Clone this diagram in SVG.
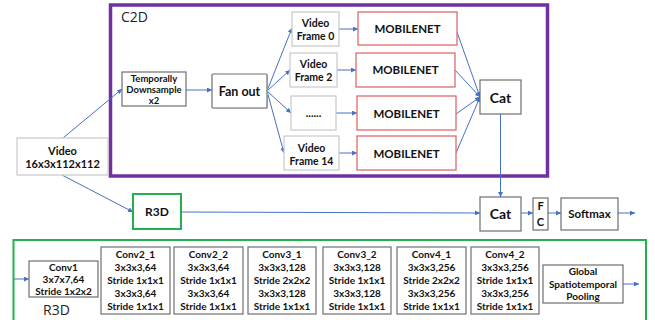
<svg xmlns="http://www.w3.org/2000/svg" width="655" height="320" viewBox="0 0 655 320">
  <defs>
    <marker id="arr" viewBox="0 0 6 6" refX="6" refY="3" markerWidth="5" markerHeight="5" orient="auto" markerUnits="userSpaceOnUse">
      <path d="M0,0 L6,3 L0,6 z" fill="#4472C4"/>
    </marker>
    <style>
      .t { font-family: Lato, "Open Sans", "Liberation Sans", sans-serif; font-weight: bold; fill: #111; text-anchor: middle; }
      .lbl { font-family: "Open Sans", "Liberation Sans", sans-serif; font-weight: normal; fill: #222; }
      .box { fill: #fff; stroke: #6f6f6f; stroke-width: 1.2; }
      .light { fill: #fff; stroke: #c9c9c9; stroke-width: 1.2; }
      .mob { fill: #fff; stroke: #e06a6a; stroke-width: 1.3; }
      .grn { fill: #fff; stroke: #22b14c; stroke-width: 2; }
      .c { fill: none; stroke: #4472C4; stroke-width: 1; marker-end: url(#arr); }
      .s { font-size: 10px; }
    </style>
  </defs>
  <rect width="655" height="320" fill="#fff"/>

  <!-- C2D container -->
  <g id="c2d">
    <rect x="110.5" y="5" width="437" height="171" fill="none" stroke="#7030A0" stroke-width="3.5"/>
    <text class="lbl" x="121" y="22" font-size="14">C2D</text>
  </g>

  <!-- R3D container -->
  <g id="r3d-block">
    <rect x="13.5" y="240" width="632.5" height="85" fill="none" stroke="#22b14c" stroke-width="2"/>
    <text class="lbl" x="43" y="315" font-size="14">R3D</text>
  </g>

  <!-- connectors -->
  <g id="connectors">
    <line class="c" x1="63" y1="138" x2="122" y2="89"/>
    <line class="c" x1="186" y1="90" x2="212" y2="90"/>
    <line class="c" x1="267" y1="91" x2="292" y2="28"/>
    <line class="c" x1="267" y1="91" x2="290" y2="70"/>
    <line class="c" x1="267" y1="91" x2="291" y2="113"/>
    <line class="c" x1="267" y1="91" x2="284" y2="153"/>
    <line class="c" x1="339" y1="29" x2="358" y2="29"/>
    <line class="c" x1="337" y1="70" x2="356" y2="70"/>
    <line class="c" x1="336" y1="113" x2="357" y2="113"/>
    <line class="c" x1="339" y1="153" x2="357" y2="153"/>
    <line class="c" x1="457" y1="32" x2="480" y2="97"/>
    <line class="c" x1="455" y1="70" x2="480" y2="97"/>
    <line class="c" x1="456" y1="114" x2="480" y2="97"/>
    <line class="c" x1="456" y1="153" x2="480" y2="97"/>
    <line class="c" x1="500.5" y1="114" x2="500.5" y2="197"/>
    <line class="c" x1="62" y1="175" x2="133" y2="212"/>
    <line class="c" x1="181" y1="212" x2="480" y2="213"/>
    <line class="c" x1="521" y1="213" x2="533" y2="213"/>
    <line class="c" x1="548" y1="213" x2="561" y2="213"/>
    <line class="c" x1="618" y1="213" x2="635" y2="213"/>
    <line class="c" x1="14" y1="279" x2="29" y2="279"/>
    <line class="c" x1="623" y1="284" x2="639" y2="284"/>
  </g>

  <g id="video">
    <rect class="light" x="17" y="138" width="91" height="37"/>
    <text class="t" font-size="11" x="62.5" y="155">Video</text>
    <text class="t" font-size="11" x="62.5" y="168">16x3x112x112</text>
  </g>

  <g id="downsample">
    <rect class="box" x="122" y="72" width="64" height="34"/>
    <text class="t" font-size="9.5" x="154" y="81.5">Temporally</text>
    <text class="t" font-size="9.5" x="154" y="93">Downsample</text>
    <text class="t" font-size="9.5" x="154" y="104">x2</text>
  </g>

  <g id="fanout">
    <rect x="213" y="75" width="55" height="34" fill="#ddd" rx="1"/>
    <rect class="box" x="212" y="74" width="55" height="34" rx="1"/>
    <text class="t" font-size="12.5" x="239.5" y="96">Fan out</text>
  </g>

  <g id="frame0">
    <rect class="light" x="292" y="12" width="47" height="34"/>
    <text class="t" font-size="10.5" x="315.5" y="27">Video</text>
    <text class="t" font-size="10.5" x="315.5" y="39.5">Frame 0</text>
  </g>
  <g id="frame2">
    <rect class="light" x="290" y="53" width="47" height="34"/>
    <text class="t" font-size="10.5" x="313.5" y="67.5">Video</text>
    <text class="t" font-size="10.5" x="313.5" y="80.5">Frame 2</text>
  </g>
  <g id="frame-more">
    <rect class="light" x="291" y="96" width="45" height="34"/>
    <text class="t" font-size="11" x="313.5" y="117">......</text>
  </g>
  <g id="frame14">
    <rect class="light" x="284" y="136" width="55" height="34"/>
    <text class="t" font-size="10.5" x="311.5" y="151.5">Video</text>
    <text class="t" font-size="10.5" x="311.5" y="164.5">Frame 14</text>
  </g>

  <g id="mobilenet0">
    <rect class="mob" x="358" y="12" width="99" height="33"/>
    <text class="t" font-size="11.5" x="407.5" y="33">MOBILENET</text>
  </g>
  <g id="mobilenet1">
    <rect class="mob" x="356" y="53" width="99" height="34"/>
    <text class="t" font-size="11.5" x="405.5" y="74">MOBILENET</text>
  </g>
  <g id="mobilenet2">
    <rect class="mob" x="357" y="96" width="99" height="34"/>
    <text class="t" font-size="11.5" x="406.5" y="118">MOBILENET</text>
  </g>
  <g id="mobilenet3">
    <rect class="mob" x="357" y="136" width="99" height="34"/>
    <text class="t" font-size="11.5" x="406.5" y="158">MOBILENET</text>
  </g>

  <g id="cat-c2d">
    <rect class="box" x="480" y="80" width="41" height="34"/>
    <text class="t" font-size="14" x="500.5" y="103">Cat</text>
  </g>

  <g id="r3d">
    <rect class="grn" x="133" y="194" width="48" height="35"/>
    <text class="t" font-size="12" x="157" y="216">R3D</text>
  </g>

  <g id="cat">
    <rect class="box" x="480" y="197" width="41" height="34"/>
    <text class="t" font-size="14" x="500.5" y="219">Cat</text>
  </g>
  <g id="fc">
    <rect class="box" x="533" y="198" width="15" height="32"/>
    <text class="t" font-size="11" x="540.5" y="210">F</text>
    <text class="t" font-size="11" x="540.5" y="226">C</text>
  </g>
  <g id="softmax">
    <rect class="box" x="561" y="198" width="57" height="32"/>
    <text class="t" font-size="11.5" x="589.5" y="218">Softmax</text>
  </g>

  <g id="conv1">
    <rect class="box" x="29" y="261" width="69" height="36"/>
    <text class="t s" x="63.5" y="270.5">Conv1</text>
    <text class="t s" x="63.5" y="282.5">3x7x7,64</text>
    <text class="t s" x="63.5" y="295">Stride 1x2x2</text>
  </g>

  <g id="conv2_1">
    <rect class="box" x="101" y="247" width="69" height="67"/>
    <text class="t s" x="135.5" y="257.5">Conv2_1</text>
    <text class="t s" x="135.5" y="270.5">3x3x3,64</text>
    <text class="t s" x="135.5" y="283.5">Stride 1x1x1</text>
    <text class="t s" x="135.5" y="296.5">3x3x3,64</text>
    <text class="t s" x="135.5" y="309.5">Stride 1x1x1</text>
  </g>
  <g id="conv2_2">
    <rect class="box" x="174" y="247" width="69" height="67"/>
    <text class="t s" x="208.5" y="257.5">Conv2_2</text>
    <text class="t s" x="208.5" y="270.5">3x3x3,64</text>
    <text class="t s" x="208.5" y="283.5">Stride 1x1x1</text>
    <text class="t s" x="208.5" y="296.5">3x3x3,64</text>
    <text class="t s" x="208.5" y="309.5">Stride 1x1x1</text>
  </g>
  <g id="conv3_1">
    <rect class="box" x="248" y="247" width="68" height="67"/>
    <text class="t s" x="282" y="257.5">Conv3_1</text>
    <text class="t s" x="282" y="270.5">3x3x3,128</text>
    <text class="t s" x="282" y="283.5">Stride 2x2x2</text>
    <text class="t s" x="282" y="296.5">3x3x3,128</text>
    <text class="t s" x="282" y="309.5">Stride 1x1x1</text>
  </g>
  <g id="conv3_2">
    <rect class="box" x="323" y="247" width="68" height="67"/>
    <text class="t s" x="357" y="257.5">Conv3_2</text>
    <text class="t s" x="357" y="270.5">3x3x3,128</text>
    <text class="t s" x="357" y="283.5">Stride 1x1x1</text>
    <text class="t s" x="357" y="296.5">3x3x3,128</text>
    <text class="t s" x="357" y="309.5">Stride 1x1x1</text>
  </g>
  <g id="conv4_1">
    <rect class="box" x="397" y="247" width="69" height="67"/>
    <text class="t s" x="431.5" y="257.5">Conv4_1</text>
    <text class="t s" x="431.5" y="270.5">3x3x3,256</text>
    <text class="t s" x="431.5" y="283.5">Stride 2x2x2</text>
    <text class="t s" x="431.5" y="296.5">3x3x3,256</text>
    <text class="t s" x="431.5" y="309.5">Stride 1x1x1</text>
  </g>
  <g id="conv4_2">
    <rect class="box" x="471" y="247" width="68" height="67"/>
    <text class="t s" x="505" y="257.5">Conv4_2</text>
    <text class="t s" x="505" y="270.5">3x3x3,256</text>
    <text class="t s" x="505" y="283.5">Stride 1x1x1</text>
    <text class="t s" x="505" y="296.5">3x3x3,256</text>
    <text class="t s" x="505" y="309.5">Stride 1x1x1</text>
  </g>
  <g id="pooling">
    <rect class="box" x="543" y="265" width="80" height="38"/>
    <text class="t s" x="583" y="274.5">Global</text>
    <text class="t s" x="583" y="287.5">Spatiotemporal</text>
    <text class="t s" x="583" y="300">Pooling</text>
  </g>
</svg>
